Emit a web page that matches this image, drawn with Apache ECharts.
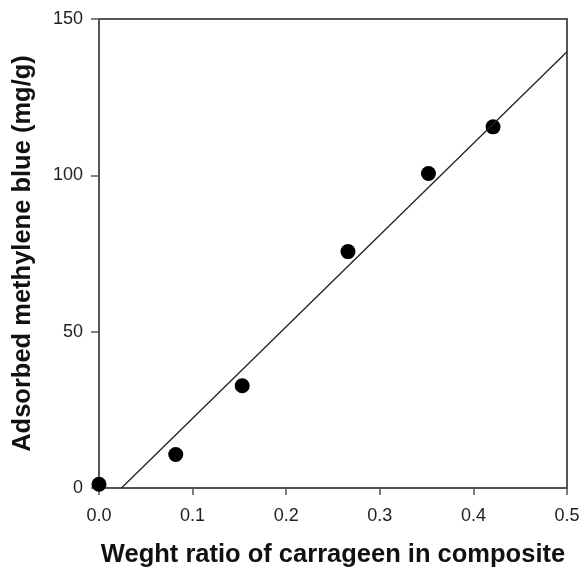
<!DOCTYPE html>
<html>
<head>
<meta charset="utf-8">
<script src="https://cdn.jsdelivr.net/npm/echarts@6/dist/echarts.min.js"></script>
<style>
  html, body { margin: 0; padding: 0; background: #fff; }
  #chart { width: 582px; height: 568px; }
</style>
</head>
<body>
<div id="chart"></div>
<script>
// measured points
const ratio = [0.0, 0.082, 0.153, 0.266, 0.352, 0.421];
const adsorbed = [1.2, 10.7, 32.7, 75.6, 100.6, 115.5];
// fitted line endpoints
const fitX = [0.024, 0.5];
const fitY = [0, 139.5];

const chart = echarts.init(document.getElementById('chart'));

const axisLine = { show: true, lineStyle: { color: '#555', width: 2 } };
const tickStyle = { color: '#555', width: 1.5 };

chart.setOption({
  animation: false,
  grid: {
    left: 99, right: 15, top: 19, bottom: 80,
    outerBoundsMode: 'none',
    show: true, borderColor: '#555', borderWidth: 2
  },
  xAxis: {
    type: 'value',
    min: 0, max: 0.5, interval: 0.1,
    name: 'Weght ratio of carrageen in composite',
    nameLocation: 'middle',
    nameGap: 54,
    nameMoveOverlap: false,
    nameTextStyle: { fontFamily: 'Liberation Sans', fontSize: 25.5, fontWeight: 'bold', color: '#111' },
    axisLine: axisLine,
    axisTick: { show: true, inside: false, length: 7, lineStyle: tickStyle },
    axisLabel: { margin: 19, fontFamily: 'Liberation Sans', fontSize: 18, color: '#222',
      formatter: v => v.toFixed(1) },
    splitLine: { show: false }
  },
  yAxis: {
    type: 'value',
    min: 0, max: 150, interval: 50,
    name: 'Adsorbed methylene blue (mg/g)',
    nameLocation: 'middle',
    nameGap: 63,
    nameMoveOverlap: false,
    nameTextStyle: { fontFamily: 'Liberation Sans', fontSize: 25.5, fontWeight: 'bold', color: '#111' },
    axisLine: axisLine,
    axisTick: { show: true, inside: false, length: 8, lineStyle: tickStyle },
    axisLabel: { margin: 16, fontFamily: 'Liberation Sans', fontSize: 18, color: '#222' },
    splitLine: { show: false }
  },
  series: [
    {
      type: 'line',
      data: fitX.map((x, i) => [x, fitY[i]]),
      showSymbol: false,
      lineStyle: { color: '#222', width: 1.3 },
      silent: true
    },
    {
      type: 'scatter',
      data: ratio.map((x, i) => [x, adsorbed[i]]),
      symbolSize: 15,
      itemStyle: { color: '#000', opacity: 1 }
    }
  ]
});
</script>
</body>
</html>
